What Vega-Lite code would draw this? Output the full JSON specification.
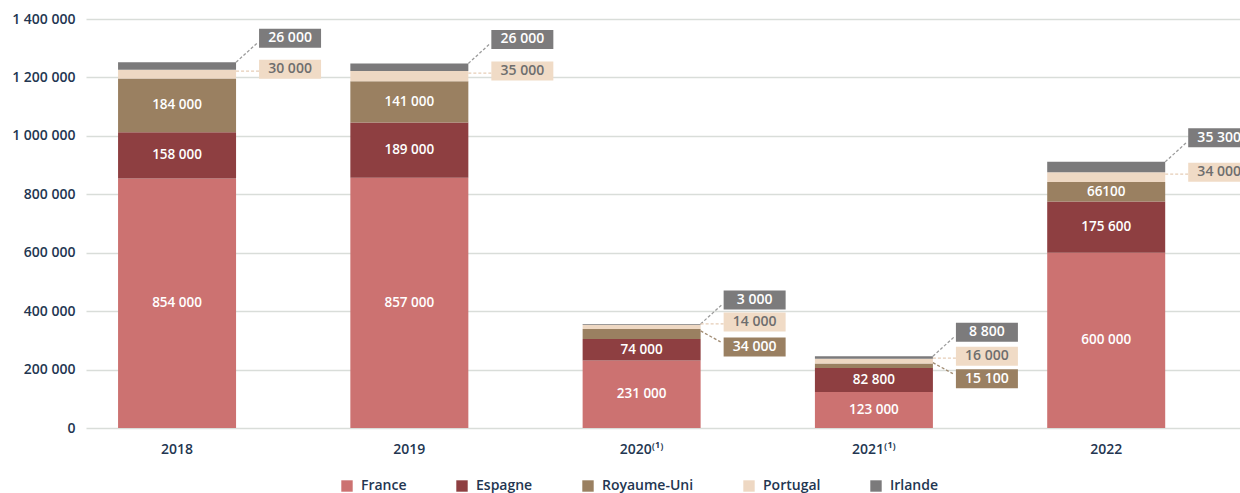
{
  "$schema": "https://vega.github.io/schema/vega-lite/v6.json",
  "width": 1154,
  "height": 409,
  "autosize": {"type": "none"},
  "padding": {"left": 86, "top": 19, "right": 0, "bottom": 65},
  "background": "white",
  "config": {
    "locale": {"number": {"decimal": ",", "thousands": " ", "grouping": [3], "currency": ["", " €"]}},
    "view": {"stroke": null},
    "font": "Open Sans"
  },
  "data": {
    "values": [
      {"year": "2018", "country": "France", "rank": 1, "value": 854000, "label": "854 000"},
      {"year": "2018", "country": "Espagne", "rank": 2, "value": 158000, "label": "158 000"},
      {"year": "2018", "country": "Royaume-Uni", "rank": 3, "value": 184000, "label": "184 000"},
      {"year": "2018", "country": "Portugal", "rank": 4, "value": 30000, "label": "30 000"},
      {"year": "2018", "country": "Irlande", "rank": 5, "value": 26000, "label": "26 000"},
      {"year": "2019", "country": "France", "rank": 1, "value": 857000, "label": "857 000"},
      {"year": "2019", "country": "Espagne", "rank": 2, "value": 189000, "label": "189 000"},
      {"year": "2019", "country": "Royaume-Uni", "rank": 3, "value": 141000, "label": "141 000"},
      {"year": "2019", "country": "Portugal", "rank": 4, "value": 35000, "label": "35 000"},
      {"year": "2019", "country": "Irlande", "rank": 5, "value": 26000, "label": "26 000"},
      {"year": "2020⁽¹⁾", "country": "France", "rank": 1, "value": 231000, "label": "231 000"},
      {"year": "2020⁽¹⁾", "country": "Espagne", "rank": 2, "value": 74000, "label": "74 000"},
      {"year": "2020⁽¹⁾", "country": "Royaume-Uni", "rank": 3, "value": 34000, "label": "34 000"},
      {"year": "2020⁽¹⁾", "country": "Portugal", "rank": 4, "value": 14000, "label": "14 000"},
      {"year": "2020⁽¹⁾", "country": "Irlande", "rank": 5, "value": 3000, "label": "3 000"},
      {"year": "2021⁽¹⁾", "country": "France", "rank": 1, "value": 123000, "label": "123 000"},
      {"year": "2021⁽¹⁾", "country": "Espagne", "rank": 2, "value": 82800, "label": "82 800"},
      {"year": "2021⁽¹⁾", "country": "Royaume-Uni", "rank": 3, "value": 15100, "label": "15 100"},
      {"year": "2021⁽¹⁾", "country": "Portugal", "rank": 4, "value": 16000, "label": "16 000"},
      {"year": "2021⁽¹⁾", "country": "Irlande", "rank": 5, "value": 8800, "label": "8 800"},
      {"year": "2022", "country": "France", "rank": 1, "value": 600000, "label": "600 000"},
      {"year": "2022", "country": "Espagne", "rank": 2, "value": 175600, "label": "175 600"},
      {"year": "2022", "country": "Royaume-Uni", "rank": 3, "value": 66100, "label": "66100"},
      {"year": "2022", "country": "Portugal", "rank": 4, "value": 34000, "label": "34 000"},
      {"year": "2022", "country": "Irlande", "rank": 5, "value": 35300, "label": "35 300"}
    ]
  },
  "encoding": {
    "x": {
      "field": "year", "type": "nominal", "sort": null,
      "scale": {"paddingInner": 0.492, "paddingOuter": 0.23, "align": 0.3},
      "axis": {"title": null, "labelAngle": 0, "ticks": false, "domain": false, "grid": false, "labelPadding": 14, "labelFontSize": 14, "labelFontWeight": 600, "labelColor": "#233651"}
    },
    "order": {"field": "rank", "type": "quantitative"}
  },
  "layer": [
    {
      "mark": {"type": "bar"},
      "encoding": {
        "y": {
          "field": "value", "type": "quantitative", "stack": "zero", "title": null,
          "scale": {"domain": [0, 1400000], "nice": false},
          "axis": {"title": null, "values": [0, 200000, 400000, 600000, 800000, 1000000, 1200000, 1400000], "format": ",.0f", "domain": false, "ticks": false, "labelPadding": 11, "labelFontSize": 14, "labelFontWeight": 600, "labelColor": "#233651", "gridColor": "#d9ddd9", "gridWidth": 1.5}
        },
        "color": {
          "field": "country", "type": "nominal",
          "scale": {"domain": ["France", "Espagne", "Royaume-Uni", "Portugal", "Irlande"], "range": ["#cc7271", "#8e3f41", "#9a8061", "#eed8c3", "#7b7a7b"]},
          "legend": {"title": null, "orient": "none", "legendX": 254, "legendY": 460, "direction": "horizontal", "columns": 5, "symbolType": "square", "symbolSize": 130, "symbolStrokeWidth": 0, "labelFontSize": 14, "labelFontWeight": 600, "labelColor": "#233651", "columnPadding": 48, "labelOffset": 7}
        }
      }
    },
    {
      "mark": {"type": "text", "align": "center", "baseline": "middle", "fontSize": 13.5, "fontWeight": 600, "color": "white"},
      "encoding": {
        "y": {"field": "value", "type": "quantitative", "stack": "zero", "bandPosition": 0.5, "title": null},
        "detail": {"field": "country"},
        "text": {"condition": {"test": "datum.country === 'Portugal' || datum.country === 'Irlande' || (datum.country === 'Royaume-Uni' && datum.value < 50000)", "value": ""}, "field": "label"}
      }
    },
    {
      "mark": {"type": "point", "shape": "M0.295,0L0.405,-0.1", "size": 160000, "filled": false, "color": "#9b9b9b", "strokeWidth": 1.3, "strokeDash": [3, 2]},
      "encoding": {
        "y": {"field": "value", "type": "quantitative", "stack": "zero", "bandPosition": 1, "title": null},
        "detail": {"field": "country"},
        "opacity": {"condition": {"test": "datum.country === 'Irlande'", "value": 1}, "value": 0}
      }
    },
    {
      "mark": {"type": "point", "shape": "M0.41,-0.1675H0.72V-0.0725H0.41Z", "size": 160000, "filled": true, "color": "#7c7b7c", "strokeWidth": 0},
      "encoding": {
        "y": {"field": "value", "type": "quantitative", "stack": "zero", "bandPosition": 1, "title": null},
        "detail": {"field": "country"},
        "opacity": {"condition": {"test": "datum.country === 'Irlande'", "value": 1}, "value": 0}
      }
    },
    {
      "mark": {"type": "text", "align": "center", "baseline": "middle", "dx": 113, "dy": -24, "fontSize": 14, "fontWeight": 600, "color": "white"},
      "encoding": {
        "y": {"field": "value", "type": "quantitative", "stack": "zero", "bandPosition": 1, "title": null},
        "detail": {"field": "country"},
        "text": {"condition": {"test": "datum.country !== 'Irlande'", "value": ""}, "field": "label"}
      }
    },
    {
      "mark": {"type": "point", "shape": "M0.295,-0.015L0.41,-0.015", "size": 160000, "filled": false, "color": "#e6cdb6", "strokeWidth": 1.3, "strokeDash": [3, 2]},
      "encoding": {
        "y": {"field": "value", "type": "quantitative", "stack": "zero", "bandPosition": 0.5, "title": null},
        "detail": {"field": "country"},
        "opacity": {"condition": {"test": "datum.country === 'Portugal'", "value": 1}, "value": 0}
      }
    },
    {
      "mark": {"type": "point", "shape": "M0.41,-0.0725H0.72V0.0225H0.41Z", "size": 160000, "filled": true, "color": "#f0dbc6", "strokeWidth": 0},
      "encoding": {
        "y": {"field": "value", "type": "quantitative", "stack": "zero", "bandPosition": 0.5, "title": null},
        "detail": {"field": "country"},
        "opacity": {"condition": {"test": "datum.country === 'Portugal'", "value": 1}, "value": 0}
      }
    },
    {
      "mark": {"type": "text", "align": "center", "baseline": "middle", "dx": 113, "dy": -5, "fontSize": 14, "fontWeight": 600, "color": "#6e6e6e"},
      "encoding": {
        "y": {"field": "value", "type": "quantitative", "stack": "zero", "bandPosition": 0.5, "title": null},
        "detail": {"field": "country"},
        "text": {"condition": {"test": "datum.country !== 'Portugal'", "value": ""}, "field": "label"}
      }
    },
    {
      "mark": {"type": "point", "shape": "M0.295,-0.015L0.395,0.04", "size": 160000, "filled": false, "color": "#a08b72", "strokeWidth": 1.3, "strokeDash": [3, 2]},
      "encoding": {
        "y": {"field": "value", "type": "quantitative", "stack": "zero", "bandPosition": 0.5, "title": null},
        "detail": {"field": "country"},
        "opacity": {"condition": {"test": "datum.country === 'Royaume-Uni' && datum.value < 50000", "value": 1}, "value": 0}
      }
    },
    {
      "mark": {"type": "point", "shape": "M0.41,0.0175H0.72V0.1125H0.41Z", "size": 160000, "filled": true, "color": "#9a8062", "strokeWidth": 0},
      "encoding": {
        "y": {"field": "value", "type": "quantitative", "stack": "zero", "bandPosition": 0.5, "title": null},
        "detail": {"field": "country"},
        "opacity": {"condition": {"test": "datum.country === 'Royaume-Uni' && datum.value < 50000", "value": 1}, "value": 0}
      }
    },
    {
      "mark": {"type": "text", "align": "center", "baseline": "middle", "dx": 113, "dy": 13, "fontSize": 14, "fontWeight": 600, "color": "white"},
      "encoding": {
        "y": {"field": "value", "type": "quantitative", "stack": "zero", "bandPosition": 0.5, "title": null},
        "detail": {"field": "country"},
        "text": {"condition": {"test": "!(datum.country === 'Royaume-Uni' && datum.value < 50000)", "value": ""}, "field": "label"}
      }
    }
  ]
}
